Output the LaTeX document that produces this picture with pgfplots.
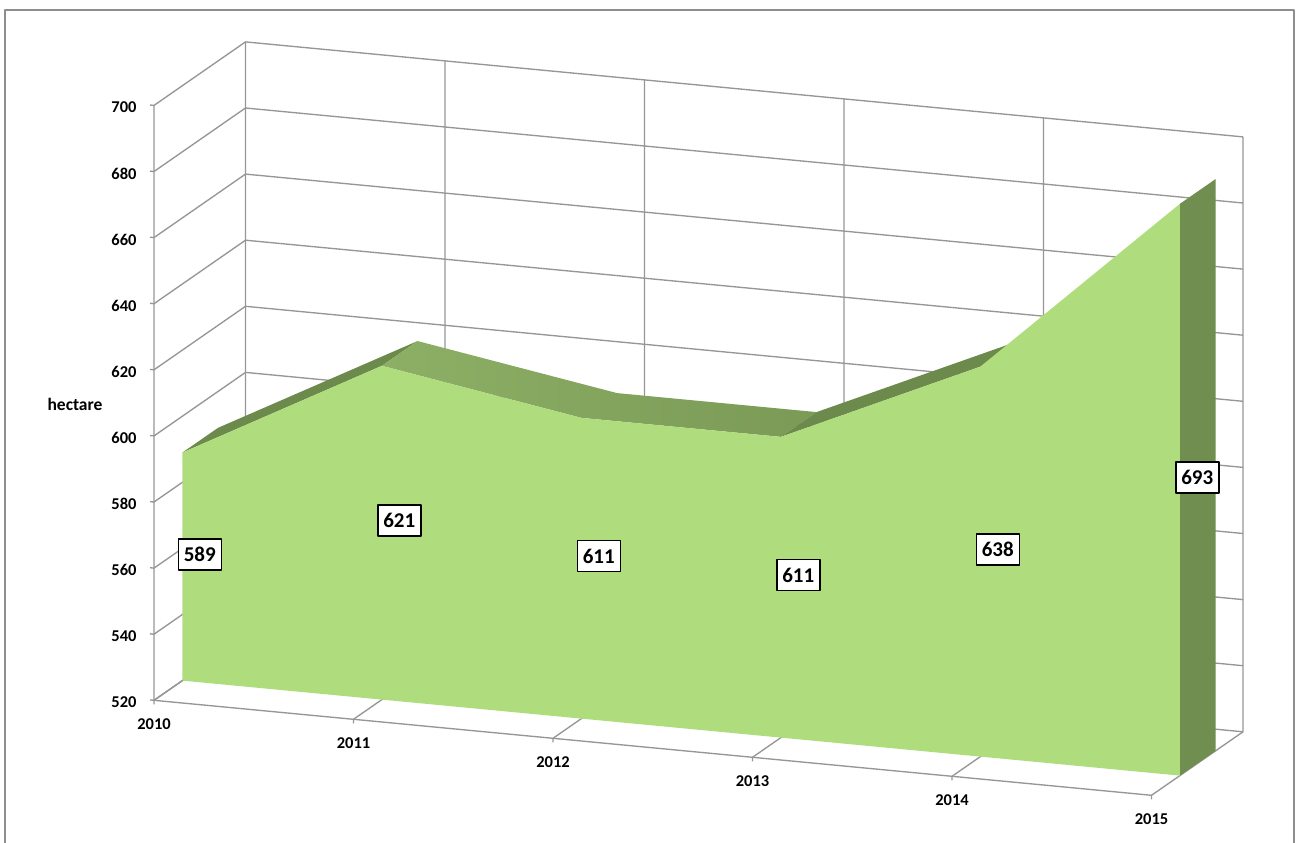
\documentclass[border=0pt]{standalone}
\usepackage{fontspec}
\setmainfont{Carlito}
\usepackage{pgfplots}
\usepackage{pgfplotstable}
\pgfplotsset{compat=1.18}
\definecolor{gridc}{HTML}{969696}
\definecolor{framec}{HTML}{8E8E8E}
\definecolor{frontc}{HTML}{AFDD7E}
\definecolor{sidec}{HTML}{6F8E4F}
\definecolor{risec}{HTML}{6D8A4D}
\definecolor{fallA}{HTML}{8DAF65}
\definecolor{fallC}{HTML}{7A9A56}
% t = year index, d = depth in the box (0 front, 1 back), v = hectare
\pgfplotsset{
  table/proj/.style={
    x expr=154+199.5*\thisrow{t}+91.5*\thisrow{d},
    y expr=700.3+19*\thisrow{t}-63.5*\thisrow{d}-3.305*(\thisrow{v}-520)},
  gridl/.style={draw=gridc,line width=1.35pt,no marks},
  face/.style={fill=#1,draw=none,no marks}
}
\pgfplotstableread{
t year v
0 2010 589
1 2011 621
2 2012 611
3 2013 611
4 2014 638
5 2015 693
}\data
\pgfplotstableread{
t v
0 520
0 540
0 560
0 580
0 600
0 620
0 640
0 660
0 680
0 700
}\ticksy
\begin{document}
\begin{tikzpicture}[line join=round]
\useasboundingbox (0,0) rectangle (1296pt,843pt);
\begin{axis}[
  at={(0pt,0pt)},anchor=south west,
  scale only axis,width=1296pt,height=843pt,
  xmin=0,xmax=1296,ymin=0,ymax=843,y dir=reverse,
  hide axis,clip=true,
  every axis plot/.append style={solid}
]
% outer frame
\addplot[draw=framec,line width=1.6pt,no marks] coordinates {(5,843)(5,10)(1294,10)(1294,843)};
% horizontal gridlines on left wall and back wall, with tick at the front
\pgfplotsinvokeforeach{520,540,...,700}{
  \addplot[gridl] table[proj,row sep=\\] {t d v\\ -0.02 0 #1\\ 0 0 #1\\ 0 1 #1\\ 5 1 #1\\};
}
% vertical gridlines on back wall, floor lines
\pgfplotsinvokeforeach{0,...,5}{
  \addplot[gridl] table[proj,row sep=\\] {t d v\\ #1 0 518.8\\ #1 0 520\\ #1 1 520\\ #1 1 700\\};
}
\addplot[gridl] table[proj,row sep=\\] {t d v\\ 0 0 700\\ 0 0 520\\ 5 0 520\\};
% top faces
\addplot[face=risec] table[proj,row sep=\\] {t d v\\ 0 0.31 589\\ 1 0.31 621\\ 1 0.70 621\\ 0 0.70 589\\} -- cycle;
\addplot[left color=fallA,right color=fallC,draw=none,no marks] table[proj,row sep=\\] {t d v\\ 1 0.31 621\\ 2 0.31 611\\ 3 0.31 611\\ 3 0.70 611\\ 2 0.70 611\\ 1 0.70 621\\} -- cycle;
\addplot[face=risec] table[proj,row sep=\\] {t d v\\ 3 0.31 611\\ 4 0.31 638\\ 4 0.70 638\\ 3 0.70 611\\} -- cycle;
% right end face
\addplot[face=sidec] table[proj,row sep=\\] {t d v\\ 5 0.31 693\\ 5 0.70 693\\ 5 0.70 520\\ 5 0.31 520\\} -- cycle;
% front face
\addplot[face=frontc] table[proj,row sep=\\] {t d v\\ 0 0.31 520\\ 0 0.31 589\\ 1 0.31 621\\ 2 0.31 611\\ 3 0.31 611\\ 4 0.31 638\\ 5 0.31 693\\ 5 0.31 520\\} -- cycle;
% value labels, in the middle of the area's height
\addplot[only marks,mark=none,point meta=explicit symbolic,nodes near coords,
  nodes near coords style={anchor=center,fill=white,draw=black,line width=1.5pt,
    font=\fontsize{21}{24}\selectfont\bfseries,minimum width=43pt,minimum height=31pt,inner sep=0pt}]
  table[x expr=154+199.5*\thisrow{t}+45.75,
        y expr=700.3+19*\thisrow{t}-31.75-3.305*(\thisrow{v}-520)/2,
        meta=v] {\data};
% year labels
\addplot[only marks,mark=none,point meta=explicit symbolic,nodes near coords,
  nodes near coords style={anchor=center,yshift=-24pt,font=\fontsize{16.5}{18}\selectfont\bfseries,inner sep=0pt}]
  table[x expr=154+199.5*\thisrow{t},y expr=700.3+19*\thisrow{t},meta=year] {\data};
% value-axis labels
\addplot[only marks,mark=none,point meta=explicit symbolic,nodes near coords,
  nodes near coords style={anchor=center,xshift=-30pt,yshift=-2pt,font=\fontsize{16.5}{18}\selectfont\bfseries,inner sep=0pt}]
  table[x expr=154,y expr=700.3-3.305*(\thisrow{v}-520),meta=v] {\ticksy};
\node[font=\fontsize{17.5}{18}\selectfont\bfseries,inner sep=0pt] at (axis cs:75,404) {hectare};
\end{axis}
\end{tikzpicture}
\end{document}
